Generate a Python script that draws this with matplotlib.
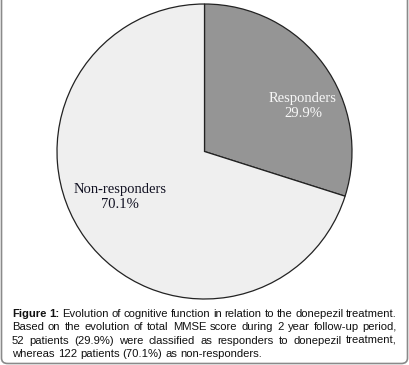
import matplotlib.pyplot as plt
from matplotlib.patches import FancyBboxPatch

# data
groups = ["Responders", "Non-responders"]
shares = [29.9, 70.1]
colors = ["#959595", "#efefef"]
text_colors = ["#f8f8f8", "#111122"]
caption_lines = [
    "Figure 1: Evolution of cognitive function in relation to the donepezil treatment.",
    "Based on the evolution of total MMSE score during 2 year follow-up period,",
    "52 patients (29.9%) were classified as responders to donepezil treatment,",
    "whereas 122 patients (70.1%) as non-responders.",
]

W, H = 409, 365
fig = plt.figure(figsize=(W / 100, H / 100), dpi=100)

# outer rounded frame (top edge falls outside the image)
frame = FancyBboxPatch((1.5 / W, 1.5 / H), (W - 3) / W, (H + 20) / H,
                       boxstyle="round,pad=0,rounding_size=0.015",
                       transform=fig.transFigure, facecolor="none",
                       edgecolor="#8a8a8a", linewidth=1.2, zorder=5)
fig.patches.append(frame)

# pie
cx, cy, r = 204.5, 151.5, 147.5
ax = fig.add_axes([(cx - r) / W, 1 - (cy + r) / H, 2 * r / W, 2 * r / H])
ax.pie(shares, colors=colors, startangle=90, counterclock=False,
       wedgeprops=dict(edgecolor="#222222", linewidth=0.9))
ax.set_xlim(-1, 1)
ax.set_ylim(-1, 1)
ax.set_aspect("equal")
ax.axis("off")

label_pos = [(0.668, 0.31), (-0.573, -0.31)]
for g, s, c, (x, y) in zip(groups, shares, text_colors, label_pos):
    ax.text(x, y, f"{g}\n{s}%", ha="center", va="center", color=c,
            family="Liberation Serif", fontsize=10.5, linespacing=1.15)

# justified caption
fig.canvas.draw()
renderer = fig.canvas.get_renderer()
left, right = 12, 397
fs = 8.1
probe = fig.text(0, 0, "x x", fontsize=fs, family="Liberation Sans")
probe2 = fig.text(0, 0, "xx", fontsize=fs, family="Liberation Sans")
space = probe.get_window_extent(renderer).width - probe2.get_window_extent(renderer).width
probe.remove()
probe2.remove()
for i, line in enumerate(caption_lines):
    y = 1 - (314 + i * 13.3) / H
    words = line.split(" ")
    texts = []
    for j, w in enumerate(words):
        bold = i == 0 and j < 2
        t = fig.text(0, y, w, ha="left", va="center", fontsize=fs,
                     family="Liberation Sans", color="#111111",
                     weight="bold" if bold else "normal")
        texts.append(t)
    widths = [t.get_window_extent(renderer).width for t in texts]
    if i < len(caption_lines) - 1:
        gap = (right - left - sum(widths)) / (len(words) - 1)
    else:
        gap = space
    x = left
    for t, wdt in zip(texts, widths):
        t.set_x(x / W)
        x += wdt + gap

fig.savefig("out.png", dpi=100)
